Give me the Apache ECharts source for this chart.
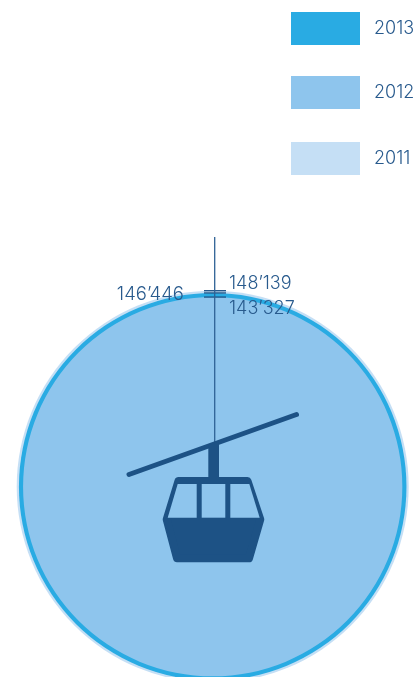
<!DOCTYPE html>
<html><head><meta charset="utf-8">
<style>html,body{margin:0;padding:0;background:#fff}#c{width:414px;height:677px}</style>
<script src="https://cdn.jsdelivr.net/npm/echarts@6/dist/echarts.min.js"></script>
</head><body><div id="c"></div>
<script>
const years = ['2013', '2012', '2011'];
const values2013 = [146446];
const values2012 = [143327];
const values2011 = [148139];
const colors = { '2013': '#29abe3', '2012': '#8ec5ed', '2011': '#c5dff5' };
const legendTops = [12, 76, 142];
const INK = '#285a8d', DARK = '#1d5285', FONT = 'Inter';

// A disc's radius on the shared scale equals its value, so its top edge sits at the value on the y axis.
const PX_PER_UNIT = 196 / 148139, CX = 212.7, CY = 486.7, W = 414, H = 677;

function disc(params, api) {
  const c = api.coord([0, 0]), top = api.coord([0, api.value(1)]);
  return { type: 'circle', shape: { cx: c[0], cy: c[1], r: c[1] - top[1] }, style: { fill: api.visual('color') } };
}
function discSeries(name, vals, z) {
  return { name, type: 'custom', coordinateSystem: 'cartesian2d', z, silent: true, clip: false,
    itemStyle: { color: colors[name] }, encode: { x: 0, y: 1 },
    data: vals.map(v => [0, v]), renderItem: disc };
}
function fmt(v) { return String(v).replace(/(\d)(?=(\d{3})$)/, '$1’'); }
// tick on the disc's top edge, label placed beside it
function tickSeries(vals, labelX, labelAlign, labelYOffset, fontSize) {
  return { type: 'custom', coordinateSystem: 'cartesian2d', z: 6, silent: true, clip: false,
    encode: { x: 0, y: 1 }, data: vals.map(v => [0, v]),
    renderItem(params, api) {
      const v = api.value(1), p = api.coord([0, v]);
      return { type: 'group', children: [
        { type: 'line', shape: { x1: 204, y1: p[1], x2: 226, y2: p[1] }, style: { stroke: DARK, lineWidth: 1.3 } },
        { type: 'text', x: labelX, y: p[1] + labelYOffset,
          style: { text: fmt(v), fill: INK, font: '300 ' + fontSize + 'px ' + FONT, textAlign: labelAlign, textVerticalAlign: 'middle' } }
      ] };
    } };
}

const chart = echarts.init(document.getElementById('c'), null, { renderer: 'canvas' });
const hidden = { show: false };
chart.setOption({
  animation: false,
  backgroundColor: '#fff',
  grid: { left: 0, right: 0, top: 0, bottom: 0 },
  xAxis: { type: 'value', min: -CX / PX_PER_UNIT, max: (W - CX) / PX_PER_UNIT, ...hidden },
  yAxis: { type: 'value', min: -(H - CY) / PX_PER_UNIT, max: CY / PX_PER_UNIT, ...hidden },
  legend: years.map((y, i) => ({
    data: [y], left: 291, top: legendTops[i], padding: 0, itemWidth: 69, itemHeight: 33, icon: 'rect',
    selectedMode: false,
    textStyle: { color: INK, fontSize: 18, fontFamily: FONT, fontWeight: 300, padding: [0, 0, 0, 9] }
  })),
  series: [
    discSeries('2011', values2011, 1),
    discSeries('2013', values2013, 2),
    discSeries('2012', values2012, 3),
    tickSeries(values2013, 184, 'right', 1, 18.5),
    tickSeries(values2012, 229, 'left', 11.5, 18),
    tickSeries(values2011, 229, 'left', -7, 18)
  ],
  graphic: [
    { type: 'line', z: 8, shape: { x1: 214.7, y1: 237, x2: 214.7, y2: 442 }, style: { stroke: '#2f6296', lineWidth: 1.3 } },
    { type: 'line', z: 9, shape: { x1: 129, y1: 474.5, x2: 296.5, y2: 414.5 }, style: { stroke: DARK, lineWidth: 5, lineCap: 'round' } },
    { type: 'rect', z: 9, shape: { x: 208.3, y: 444, width: 10.7, height: 36 }, style: { fill: DARK } },
    { type: 'polygon', z: 9, shape: { points: [[178.5, 481], [247.5, 481], [260.3, 519.5], [249, 558.3], [177, 558.3], [166.7, 519.5]] },
      style: { fill: DARK, stroke: DARK, lineWidth: 8, lineJoin: 'round' } },
    { type: 'polygon', z: 10, shape: { points: [[177.7, 484], [196.7, 484], [196.7, 517.7], [167.7, 517.7]] }, style: { fill: colors['2012'] } },
    { type: 'polygon', z: 10, shape: { points: [[201.7, 484], [225.3, 484], [225.3, 517.7], [201.7, 517.7]] }, style: { fill: colors['2012'] } },
    { type: 'polygon', z: 10, shape: { points: [[230.3, 484], [249.3, 484], [259.7, 517.7], [230.3, 517.7]] }, style: { fill: colors['2012'] } }
  ]
});
</script></body></html>
